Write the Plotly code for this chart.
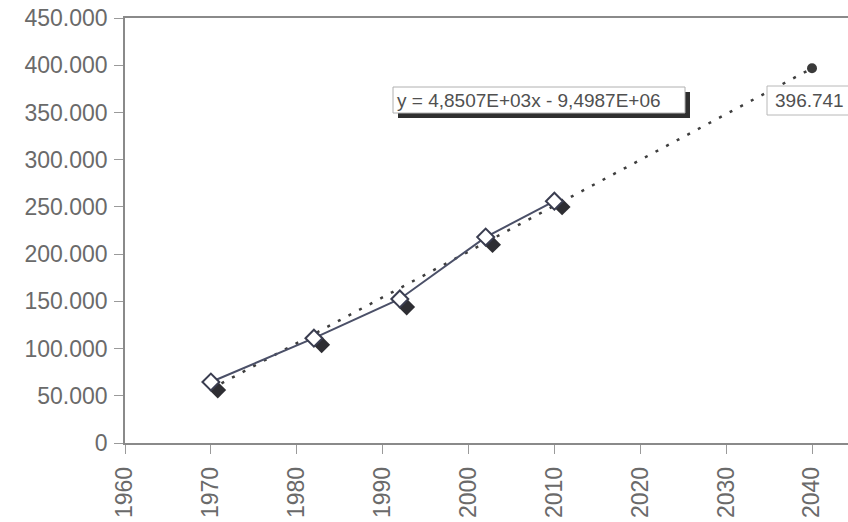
import plotly.graph_objects as go

# ---- data ----
years = [1970, 1982, 1992, 2002, 2010]
values = [64600, 111000, 152500, 218000, 256000]

shadow_years = [1970.8, 1982.9, 1992.8, 2002.8, 2010.9]
shadow_values = [56000, 104000, 144000, 210000, 250000]

trend_years = [1970, 2040]
trend_values = [57179, 396741]

forecast_year = [2040]
forecast_value = [396741]

equation_text = "y = 4,8507E+03x - 9,4987E+06"
forecast_label = "396.741"

y_tick_vals = [0, 50000, 100000, 150000, 200000, 250000, 300000, 350000, 400000, 450000]
y_tick_text = ["0", "50.000", "100.000", "150.000", "200.000", "250.000",
               "300.000", "350.000", "400.000", "450.000"]
x_tick_vals = [1960, 1970, 1980, 1990, 2000, 2010, 2020, 2030, 2040]
x_tick_text = [str(v) for v in x_tick_vals]

# ---- layout geometry (pixels; body margin removed in the page) ----
W, H = 848, 522
AX_L, AX_R, AX_T, AX_B = 125, 848, 18, 443   # plot area
L, T, R, B = AX_L, AX_T, W - AX_R, H - AX_B
PW, PH = AX_R - AX_L, AX_B - AX_T


def px(x):
    return (x - AX_L) / PW


def py(y):
    return (AX_B - y) / PH


fig = go.Figure()

# shadow markers (dark filled diamonds)
fig.add_trace(go.Scatter(
    x=shadow_years, y=shadow_values, mode="markers",
    marker=dict(symbol="diamond", size=13, color="#2e2e33",
                line=dict(width=0)),
    hoverinfo="skip", showlegend=False))

# trend line (dotted)
fig.add_trace(go.Scatter(
    x=trend_years, y=trend_values, mode="lines",
    line=dict(color="#3e3e3e", width=2.5, dash="3px,9px"),
    showlegend=False))

# data line with open diamonds
fig.add_trace(go.Scatter(
    x=years, y=values, mode="lines+markers",
    line=dict(color="#4b5068", width=2),
    marker=dict(symbol="diamond", size=13, color="white",
                line=dict(color="#3a3d50", width=2)),
    showlegend=False))

# forecast point
fig.add_trace(go.Scatter(
    x=forecast_year, y=forecast_value, mode="markers",
    marker=dict(symbol="circle", size=10, color="#3a3a3a"),
    showlegend=False))

shapes = [
    # equation box shadow
    dict(type="rect", xref="paper", yref="paper",
         x0=px(398), x1=px(690), y0=py(118), y1=py(92),
         fillcolor="#2f2f2f", line=dict(width=0), layer="above"),
    # equation box
    dict(type="rect", xref="paper", yref="paper",
         x0=px(393), x1=px(685), y0=py(113), y1=py(87),
         fillcolor="white", line=dict(color="#b0b0b0", width=1), layer="above"),
    # forecast label box
    dict(type="rect", xref="paper", yref="paper",
         x0=px(767), x1=px(860), y0=py(115), y1=py(86),
         fillcolor="white", line=dict(color="#b8b8b8", width=1), layer="above"),
]

annotations = [
    dict(xref="paper", yref="paper", x=px(395), y=py(100),
         xanchor="left", yanchor="middle", text=equation_text, showarrow=False,
         font=dict(family="Liberation Sans, Arial", size=19, color="#505050")),
    dict(xref="paper", yref="paper", x=px(773), y=py(100),
         xanchor="left", yanchor="middle", text=forecast_label, showarrow=False,
         font=dict(family="Liberation Sans, Arial", size=19, color="#505050")),
]

fig.update_layout(
    width=W, height=H,
    margin=dict(l=L, r=R, t=T, b=B, pad=0),
    paper_bgcolor="white", plot_bgcolor="white",
    shapes=shapes, annotations=annotations,
    font=dict(family="Liberation Sans, Arial", color="#6e6e6e"),
    xaxis=dict(
        range=[1960, 1960 + 80 * PW / (812 - AX_L)],
        tickmode="array", tickvals=x_tick_vals, ticktext=x_tick_text,
        tickangle=-90, tickfont=dict(size=23, color="#6a6a6a"),
        ticks="outside", ticklen=9, tickcolor="#9a9a9a",
        ticklabelstandoff=4, ticklabeloverflow="allow",
        showline=True, linecolor="#8a8a8a", linewidth=1.5, mirror=True,
        showgrid=False, zeroline=False),
    yaxis=dict(
        range=[0, 450000],
        tickmode="array", tickvals=y_tick_vals, ticktext=y_tick_text,
        tickfont=dict(size=23, color="#6a6a6a"),
        ticks="outside", ticklen=9, tickcolor="#9a9a9a",
        ticklabelstandoff=2, ticklabeloverflow="allow",
        showline=True, linecolor="#8a8a8a", linewidth=1.5, mirror=False,
        showgrid=False, zeroline=False),
)

fig.write_html(
    "out.html",
    config={"displayModeBar": False},
    post_script="document.body.style.margin='0';document.body.style.overflow='hidden';",
)
